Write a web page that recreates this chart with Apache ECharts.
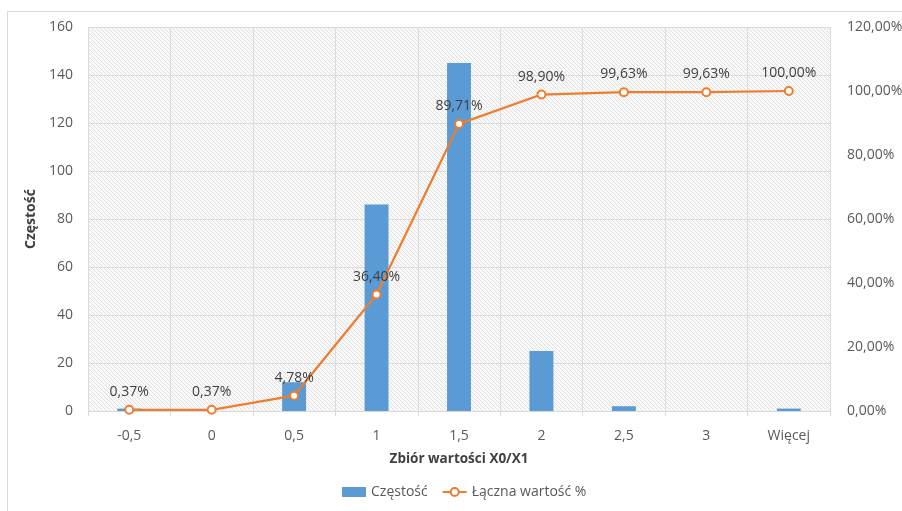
<!DOCTYPE html>
<html>
<head>
<meta charset="utf-8">
<script src="https://cdn.jsdelivr.net/npm/echarts@6/dist/echarts.min.js"></script>
<style>
  html, body { margin: 0; padding: 0; background: #ffffff; }
  #chart { width: 902px; height: 511px; }
</style>
</head>
<body>
<div id="chart"></div>
<script>
// Histogram bins (upper bounds) for X0/X1
const categories = ['-0,5', '0', '0,5', '1', '1,5', '2', '2,5', '3', 'Więcej'];
// Frequency in each bin
const counts = [1, 0, 12, 86, 145, 25, 2, 0, 1];
// Cumulative share, in percent
const cumulative = [0.37, 0.37, 4.78, 36.40, 89.71, 98.90, 99.63, 99.63, 100.00];
// Tick values of the two value axes
const leftTicks = [0, 20, 40, 60, 80, 100, 120, 140, 160];
const rightTicks = [0, 20, 40, 60, 80, 100, 120];

const FONT = '"Open Sans", "DejaVu Sans", sans-serif';

// Fine diagonal hatching for the plot background
function hatchPattern() {
  const c = document.createElement('canvas');
  c.width = 4; c.height = 4;
  const g = c.getContext('2d');
  g.fillStyle = '#f9f9f9';
  g.fillRect(0, 0, 4, 4);
  g.strokeStyle = '#e0e0e0';
  g.lineWidth = 1;
  g.beginPath();
  g.moveTo(-1, -1); g.lineTo(5, 5);
  g.moveTo(-1, 3); g.lineTo(1, 5);
  g.moveTo(3, -1); g.lineTo(5, 1);
  g.stroke();
  return c;
}

const pct = v => v.toFixed(2).replace('.', ',') + '%';

const chart = echarts.init(document.getElementById('chart'), null, { renderer: 'canvas' });
chart.setOption({
  animation: false,
  backgroundColor: '#ffffff',
  textStyle: { fontFamily: FONT },
  graphic: [{
    type: 'rect',
    shape: { x: 7.5, y: 11.5, width: 1000, height: 520 },
    style: { fill: 'none', stroke: '#d9d9d9', lineWidth: 1 },
    silent: true,
    z: -10
  }],
  grid: {
    left: 88, right: 72, top: 27, bottom: 100,
    outerBoundsMode: 'none',
    containLabel: false,
    show: true,
    backgroundColor: { image: hatchPattern(), repeat: 'repeat' },
    borderWidth: 0
  },
  legend: {
    bottom: 7,
    left: 337,
    itemGap: 14,
    itemWidth: 24,
    itemHeight: 10,
    textStyle: { fontFamily: FONT, fontSize: 14, color: '#595959' },
    data: [
      { name: 'Częstość', icon: 'rect' },
      { name: 'Łączna wartość %' }
    ]
  },
  xAxis: {
    type: 'category',
    data: categories,
    boundaryGap: true,
    name: 'Zbiór wartości X0/X1',
    nameLocation: 'middle',
    nameGap: 41,
    nameTextStyle: { fontFamily: FONT, fontSize: 13.5, fontWeight: 'bold', color: '#404040' },
    axisLine: { show: true, lineStyle: { color: '#d9d9d9', width: 1 } },
    axisTick: { show: true, length: 5, lineStyle: { color: '#d9d9d9' } },
    axisLabel: { fontFamily: FONT, fontSize: 14, color: '#595959', margin: 18 },
    splitLine: { show: true, lineStyle: { color: '#dcdcdc', width: 1 } }
  },
  yAxis: [{
    type: 'value',
    min: leftTicks[0],
    max: leftTicks[leftTicks.length - 1],
    interval: leftTicks[1] - leftTicks[0],
    name: 'Częstość',
    nameLocation: 'middle',
    nameGap: 46,
    nameRotate: 90,
    nameTextStyle: { fontFamily: FONT, fontSize: 14, fontWeight: 'bold', color: '#404040' },
    axisLine: { show: false },
    axisTick: { show: false },
    axisLabel: { fontFamily: FONT, fontSize: 14, color: '#595959', margin: 15 },
    splitLine: { show: true, lineStyle: { color: '#dcdcdc', width: 1 } }
  }, {
    type: 'value',
    position: 'right',
    min: rightTicks[0],
    max: rightTicks[rightTicks.length - 1],
    interval: rightTicks[1] - rightTicks[0],
    axisLine: { show: false },
    axisTick: { show: false },
    axisLabel: { fontFamily: FONT, fontSize: 14, color: '#595959', margin: 17, formatter: v => pct(v) },
    splitLine: { show: false }
  }],
  series: [{
    name: 'Częstość',
    type: 'bar',
    data: counts,
    yAxisIndex: 0,
    barWidth: '29%',
    itemStyle: { color: '#5b9bd5' },
    z: 2
  }, {
    name: 'Łączna wartość %',
    type: 'line',
    data: cumulative,
    yAxisIndex: 1,
    symbol: 'circle',
    symbolSize: 8,
    showAllSymbol: true,
    lineStyle: { color: '#ed7d31', width: 2.25 },
    itemStyle: { color: '#ffffff', borderColor: '#ed7d31', borderWidth: 2 },
    label: {
      show: true,
      position: 'top',
      distance: 6,
      fontFamily: FONT,
      fontSize: 14,
      color: '#404040',
      formatter: p => pct(p.value)
    },
    z: 3
  }]
});
</script>
</body>
</html>
